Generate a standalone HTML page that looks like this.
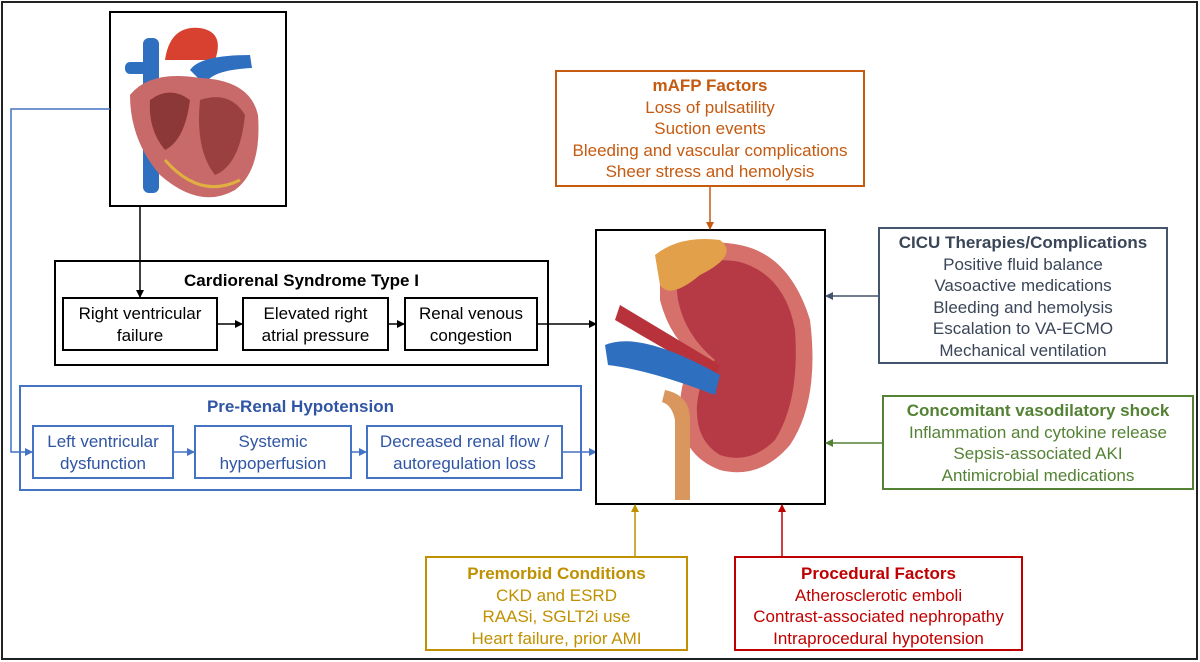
<!DOCTYPE html>
<html><head><meta charset="utf-8">
<style>
body{margin:0;width:1200px;height:662px;background:#fff;font-family:"Liberation Sans",Arial,sans-serif;position:relative;overflow:hidden}
.b{position:absolute;box-sizing:border-box;text-align:center;font-size:17px;line-height:21.5px}
.t{font-weight:bold}
svg{position:absolute;left:0;top:0}
</style></head><body>
<svg width="1200" height="662" viewBox="0 0 1200 662">
<defs>
<marker id="ak" markerWidth="8" markerHeight="8" refX="7" refY="4" orient="auto" markerUnits="userSpaceOnUse"><path d="M0,0 L8,4 L0,8z" fill="#000"/></marker>
<marker id="ab" markerWidth="8" markerHeight="8" refX="7" refY="4" orient="auto" markerUnits="userSpaceOnUse"><path d="M0,0 L8,4 L0,8z" fill="#4472c4"/></marker>
<marker id="ao" markerWidth="8" markerHeight="8" refX="7" refY="4" orient="auto" markerUnits="userSpaceOnUse"><path d="M0,0 L8,4 L0,8z" fill="#c55a11"/></marker>
<marker id="as" markerWidth="8" markerHeight="8" refX="7" refY="4" orient="auto" markerUnits="userSpaceOnUse"><path d="M0,0 L8,4 L0,8z" fill="#44546a"/></marker>
<marker id="ag" markerWidth="8" markerHeight="8" refX="7" refY="4" orient="auto" markerUnits="userSpaceOnUse"><path d="M0,0 L8,4 L0,8z" fill="#548235"/></marker>
<marker id="ar" markerWidth="8" markerHeight="8" refX="7" refY="4" orient="auto" markerUnits="userSpaceOnUse"><path d="M0,0 L8,4 L0,8z" fill="#c00000"/></marker>
<marker id="ay" markerWidth="8" markerHeight="8" refX="7" refY="4" orient="auto" markerUnits="userSpaceOnUse"><path d="M0,0 L8,4 L0,8z" fill="#bf9000"/></marker>
</defs>
<rect x="2" y="2" width="1195" height="657" fill="none" stroke="#222" stroke-width="2"/>
<!-- heart box -->
<rect x="110" y="12" width="176" height="194" fill="#fff" stroke="#000" stroke-width="2"/>
<g>
<rect x="143" y="38" width="16" height="155" rx="6" fill="#2f6fc0"/>
<rect x="125" y="62" width="30" height="12" rx="5" fill="#2f6fc0"/>
<path d="M165,60 Q170,25 200,28 Q225,32 215,60 Z" fill="#d8412f"/>
<path d="M190,70 Q200,55 250,55 L252,68 Q210,70 205,85 Z" fill="#2f6fc0"/>
<path d="M130,95 Q150,70 200,78 Q250,80 258,115 Q262,170 235,190 Q200,210 160,175 Q130,140 130,95 Z" fill="#c96a6a"/>
<path d="M150,100 Q170,85 190,100 Q185,140 165,150 Q148,130 150,100Z" fill="#8d3838"/>
<path d="M200,100 Q230,90 245,115 Q240,165 215,175 Q195,150 200,100Z" fill="#9a4040"/>
<path d="M165,160 Q200,200 240,180" stroke="#e0b040" stroke-width="3" fill="none"/>
</g>
<line x1="140" y1="207" x2="140" y2="297" stroke="#000" stroke-width="1.5" marker-end="url(#ak)"/>
<!-- cardiorenal -->
<rect x="55" y="261" width="493" height="104" fill="none" stroke="#000" stroke-width="2"/>
<rect x="63" y="298" width="154" height="52" fill="none" stroke="#000" stroke-width="2"/>
<rect x="243" y="298" width="145" height="52" fill="none" stroke="#000" stroke-width="2"/>
<rect x="405" y="298" width="132" height="52" fill="none" stroke="#000" stroke-width="2"/>
<line x1="217" y1="324" x2="242" y2="324" stroke="#000" stroke-width="1.5" marker-end="url(#ak)"/>
<line x1="388" y1="324" x2="404" y2="324" stroke="#000" stroke-width="1.5" marker-end="url(#ak)"/>
<line x1="537" y1="324" x2="596" y2="324" stroke="#000" stroke-width="1.5" marker-end="url(#ak)"/>
<!-- pre-renal -->
<rect x="20" y="386" width="561" height="104" fill="none" stroke="#4472c4" stroke-width="2"/>
<rect x="33" y="426" width="140" height="52" fill="none" stroke="#4472c4" stroke-width="2"/>
<rect x="195" y="426" width="156" height="52" fill="none" stroke="#4472c4" stroke-width="2"/>
<rect x="367" y="426" width="195" height="52" fill="none" stroke="#4472c4" stroke-width="2"/>
<polyline points="110,109 11,109 11,452 32,452" fill="none" stroke="#4472c4" stroke-width="1.5" marker-end="url(#ab)"/>
<line x1="173" y1="452" x2="194" y2="452" stroke="#4472c4" stroke-width="1.5" marker-end="url(#ab)"/>
<line x1="351" y1="452" x2="366" y2="452" stroke="#4472c4" stroke-width="1.5" marker-end="url(#ab)"/>
<line x1="562" y1="452" x2="596" y2="452" stroke="#4472c4" stroke-width="1.5" marker-end="url(#ab)"/>
<!-- kidney box -->
<rect x="596" y="230" width="229" height="274" fill="#fff" stroke="#000" stroke-width="2"/>
<g>
<path d="M660,265 Q690,235 740,245 Q790,255 810,320 Q820,400 790,445 Q760,480 720,470 Q680,455 680,410 Q680,370 700,360 Q670,340 660,300 Z" fill="#d5706a"/>
<path d="M675,275 Q700,255 740,262 Q785,275 795,330 Q800,400 775,440 Q750,465 720,455 Q695,440 697,405 Q700,375 715,360 Q685,335 678,300Z" fill="#b63a45"/>
<path d="M655,255 Q680,235 720,240 Q740,255 700,275 Q670,300 660,285 Z" fill="#e2a04a"/>
<path d="M620,305 L720,365 L715,378 L615,320Z" fill="#b8323c"/>
<path d="M605,345 Q640,330 720,375 L715,395 Q650,370 608,365Z" fill="#2f6fc0"/>
<path d="M665,390 Q690,395 690,420 L690,500 L675,500 L675,420 Q672,405 662,402Z" fill="#d9975e"/>
</g>
<!-- connectors -->
<line x1="710" y1="187" x2="710" y2="229" stroke="#c55a11" stroke-width="1.5" marker-end="url(#ao)"/>
<line x1="878" y1="296" x2="826" y2="296" stroke="#44546a" stroke-width="1.5" marker-end="url(#as)"/>
<line x1="882" y1="443" x2="826" y2="443" stroke="#548235" stroke-width="1.5" marker-end="url(#ag)"/>
<line x1="782" y1="556" x2="782" y2="505" stroke="#c00000" stroke-width="1.5" marker-end="url(#ar)"/>
<line x1="635" y1="556" x2="635" y2="505" stroke="#bf9000" stroke-width="1.5" marker-end="url(#ay)"/>
</svg>

<div class="b t" style="left:55px;top:270px;width:493px">Cardiorenal Syndrome Type I</div>
<div class="b" style="left:63px;top:303px;width:154px">Right ventricular<br>failure</div>
<div class="b" style="left:243px;top:303px;width:145px">Elevated right<br>atrial pressure</div>
<div class="b" style="left:405px;top:303px;width:132px">Renal venous<br>congestion</div>

<div class="b t" style="left:20px;top:396px;width:561px;color:#2f55a4">Pre-Renal Hypotension</div>
<div class="b" style="left:33px;top:431px;width:140px;color:#2f55a4">Left ventricular<br>dysfunction</div>
<div class="b" style="left:195px;top:431px;width:156px;color:#2f55a4">Systemic<br>hypoperfusion</div>
<div class="b" style="left:367px;top:431px;width:195px;color:#2f55a4">Decreased renal flow /<br>autoregulation loss</div>

<div class="b" style="left:555px;top:70px;width:310px;height:117px;border:2px solid #c55a11;color:#c55a11;padding-top:3px"><span class="t">mAFP Factors</span><br>Loss of pulsatility<br>Suction events<br>Bleeding and vascular complications<br>Sheer stress and hemolysis</div>

<div class="b" style="left:878px;top:227px;width:290px;height:137px;border:2px solid #44546a;color:#3a4658;padding-top:3px"><span class="t">CICU Therapies/Complications</span><br>Positive fluid balance<br>Vasoactive medications<br>Bleeding and hemolysis<br>Escalation to VA-ECMO<br>Mechanical ventilation</div>

<div class="b" style="left:882px;top:395px;width:312px;height:95px;border:2px solid #548235;color:#548235;padding-top:3px"><span class="t">Concomitant vasodilatory shock</span><br>Inflammation and cytokine release<br>Sepsis-associated AKI<br>Antimicrobial medications</div>

<div class="b" style="left:425px;top:556px;width:263px;height:95px;border:2px solid #bf9000;color:#bf9000;padding-top:5px"><span class="t">Premorbid Conditions</span><br>CKD and ESRD<br>RAASi, SGLT2i use<br>Heart failure, prior AMI</div>

<div class="b" style="left:734px;top:556px;width:289px;height:95px;border:2px solid #c00000;color:#c00000;padding-top:5px"><span class="t">Procedural Factors</span><br>Atherosclerotic emboli<br>Contrast-associated nephropathy<br>Intraprocedural hypotension</div>
</body></html>
